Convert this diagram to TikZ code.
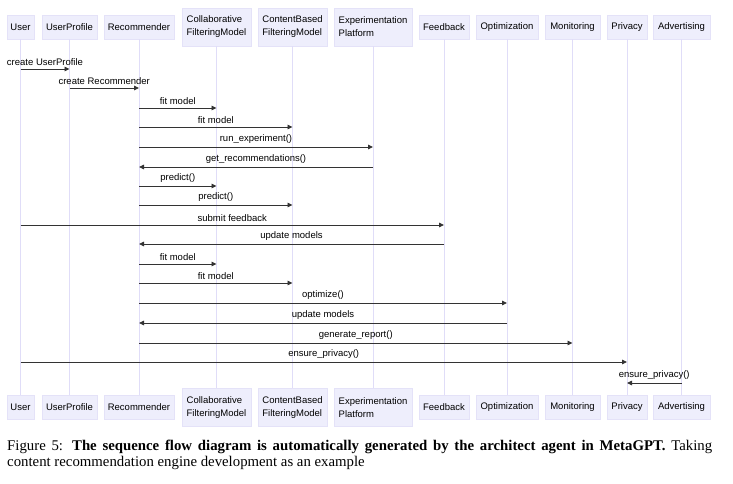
\documentclass[tikz,border=0pt]{standalone}
\usepackage{fontspec}
\setmainfont{Liberation Serif}
\newfontfamily\seqfont{Liberation Sans}
\usepackage{tikz}
\usetikzlibrary{arrows.meta}

\definecolor{actorfill}{HTML}{EEEEFC}
\definecolor{actorline}{HTML}{E4E2F8}
\definecolor{lifeline}{HTML}{E0DDF8}
\definecolor{msgline}{HTML}{333333}

\tikzset{
  actor/.style={fill=actorfill, draw=actorline, line width=0.6pt, inner sep=0pt,
    align=left, font=\seqfont\fontsize{9.5}{13}\selectfont},
  life/.style={draw=lifeline, line width=0.9pt},
  msg/.style={draw=msgline, line width=0.9pt, -{Triangle[length=5pt,width=4.5pt]}},
  msgtext/.style={font=\seqfont\fontsize{9.5}{11}\selectfont, text=black}
}

\begin{document}
\begin{tikzpicture}[x=1pt, y=-1pt]
\fill[white] (0,0) rectangle (733,483);
\useasboundingbox (0,0) rectangle (733,483);
% actor boxes, top and bottom
\foreach \nm/\x/\w/\h/\txt in {user/20.5/27/24/User, profile/69.5/55/24/UserProfile,
  rec/139/70/24/Recommender, collab/216.5/69/38/{Collaborative\\FilteringModel},
  content/292.5/69/38/{ContentBased\\FilteringModel}, exp/373/78/38/{Experimentation\\Platform},
  feedback/444/50/24/Feedback, opt/507/62/24/Optimization, mon/572.5/55/24/Monitoring,
  privacy/627/40/24/Privacy, adv/681.5/57/24/Advertising}{
\node[actor, minimum width=\w pt, minimum height=\h pt] (\nm-top) at (\x,27) {\txt};
\node[actor, minimum width=\w pt, minimum height=\h pt] (\nm-bot) at (\x,407.5) {\txt};
\draw[life] (\nm-top) -- (\nm-bot); % lifeline
}
% message rows
\foreach \k/\y in {1/69, 2/88, 3/108, 4/127, 5/147, 6/167, 7/186, 8/205, 9/225,
  10/244, 11/264, 12/283, 13/303, 14/323, 15/343, 16/362, 17/383}{
\coordinate (m\k) at (0,\y);
}
% draw messages
\draw[msg] (user-top |- m1)     -- (profile-top |- m1)  node[midway, above, msgtext]{create UserProfile};
\draw[msg] (profile-top |- m2)  -- (rec-top |- m2)      node[midway, above, msgtext]{create Recommender};
\draw[msg] (rec-top |- m3)      -- (collab-top |- m3)   node[midway, above, msgtext]{fit model};
\draw[msg] (rec-top |- m4)      -- (content-top |- m4)  node[midway, above, msgtext]{fit model};
\draw[msg] (rec-top |- m5)      -- (exp-top |- m5)      node[midway, above, msgtext]{run\_experiment()};
\draw[msg] (exp-top |- m6)      -- (rec-top |- m6)      node[midway, above, msgtext]{get\_recommendations()};
\draw[msg] (rec-top |- m7)      -- (collab-top |- m7)   node[midway, above, msgtext]{predict()};
\draw[msg] (rec-top |- m8)      -- (content-top |- m8)  node[midway, above, msgtext]{predict()};
\draw[msg] (user-top |- m9)     -- (feedback-top |- m9) node[midway, above, msgtext]{submit feedback};
\draw[msg] (feedback-top |- m10) -- (rec-top |- m10)    node[midway, above, msgtext]{update models};
\draw[msg] (rec-top |- m11)     -- (collab-top |- m11)  node[midway, above, msgtext]{fit model};
\draw[msg] (rec-top |- m12)     -- (content-top |- m12) node[midway, above, msgtext]{fit model};
\draw[msg] (rec-top |- m13)     -- (opt-top |- m13)     node[midway, above, msgtext]{optimize()};
\draw[msg] (opt-top |- m14)     -- (rec-top |- m14)     node[midway, above, msgtext]{update models};
\draw[msg] (rec-top |- m15)     -- (mon-top |- m15)     node[midway, above, msgtext]{generate\_report()};
\draw[msg] (user-top |- m16)    -- (privacy-top |- m16) node[midway, above, msgtext]{ensure\_privacy()};
\draw[msg] (adv-top |- m17)     -- (privacy-top |- m17) node[midway, above, msgtext]{ensure\_privacy()};
% caption
\node[anchor=north west, text width=705pt, align=justify, inner sep=0pt,
  font=\fontsize{14.8}{16}\selectfont] (caption) at (7,440)
  {Figure 5: \textbf{The sequence flow diagram is automatically generated by the architect agent in MetaGPT.} Taking\linebreak content recommendation engine development as an example};
\end{tikzpicture}
\end{document}
